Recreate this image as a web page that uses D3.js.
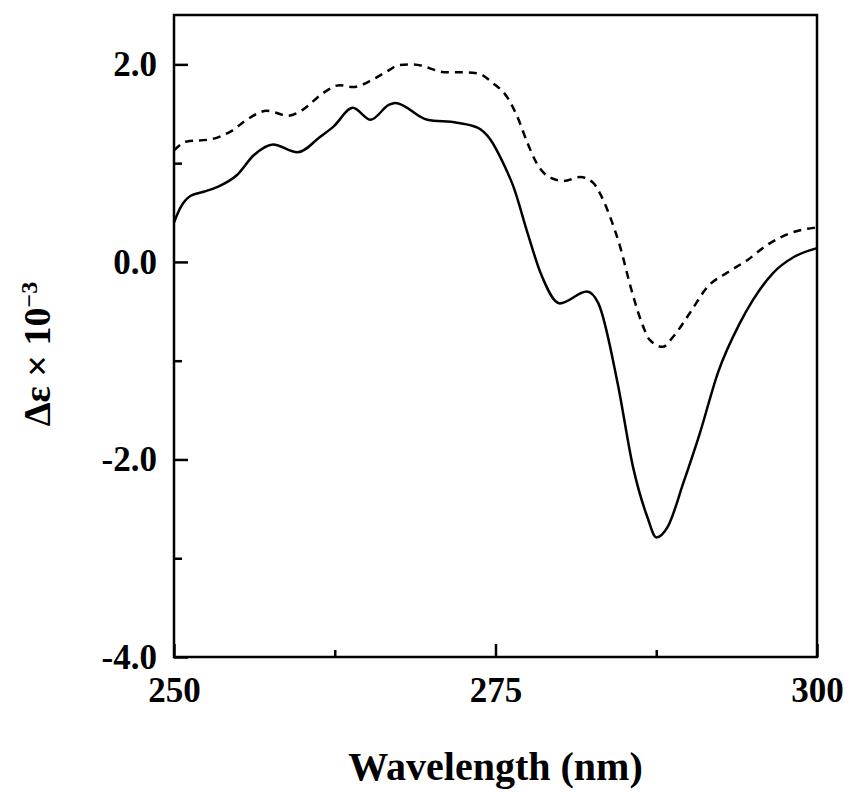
<!DOCTYPE html>
<html>
<head>
<meta charset="utf-8">
<script src="https://cdn.jsdelivr.net/npm/d3@7"></script>
<style>
  body { margin: 0; background: #fff; }
  text { font-family: "Liberation Serif", "Times New Roman", serif; font-weight: bold; fill: #000; }
</style>
</head>
<body>
<div id="app"></div>
<script>
// data
const solidWl = [250, 250.5, 251.3, 252.3, 253.4, 254.9, 256.2, 257.7, 259.6, 261.4, 262.4, 263.9, 265.3, 266.7, 267.2, 269.7, 272.0, 273.6, 274.6, 275.6, 276.4, 277.5, 278.5, 280.0, 282.1, 283.0, 284.5, 285.7, 286.8, 287.5, 288.4, 289.6, 290.9, 292.3, 294.0, 295.0, 296.6, 298.2, 300]
const solidDe = [0.40, 0.55, 0.67, 0.71, 0.76, 0.88, 1.08, 1.19, 1.11, 1.27, 1.37, 1.56, 1.44, 1.59, 1.61, 1.44, 1.41, 1.36, 1.24, 1.00, 0.76, 0.29, -0.11, -0.42, -0.30, -0.42, -1.23, -2.08, -2.58, -2.79, -2.68, -2.24, -1.73, -1.12, -0.62, -0.39, -0.11, 0.05, 0.14]

const dashedWl = [250, 251.0, 252.8, 254.4, 255.9, 257.2, 258.9, 260.0, 261.6, 262.9, 263.9, 265.5, 266.7, 267.4, 268.6, 271.2, 272.5, 273.6, 274.8, 275.9, 276.7, 277.5, 278.2, 279.3, 280.3, 281.6, 282.6, 283.1, 283.9, 284.7, 285.5, 286.3, 287.0, 288.0, 288.8, 290.1, 291.5, 293.0, 294.6, 296.1, 297.9, 300]
const dashedDe = [1.13, 1.22, 1.24, 1.32, 1.46, 1.53, 1.48, 1.54, 1.71, 1.79, 1.77, 1.85, 1.94, 1.99, 2.00, 1.92, 1.92, 1.91, 1.81, 1.67, 1.47, 1.20, 1.00, 0.85, 0.82, 0.86, 0.80, 0.70, 0.46, 0.15, -0.25, -0.59, -0.79, -0.86, -0.76, -0.52, -0.25, -0.11, 0.02, 0.17, 0.29, 0.35]

const xTicks = [250, 275, 300]
const xMinor = [262.5, 287.5]
const yTicks = [-4, -2, 0, 2]
const yMinor = [-3, -1, 1]

const W = 849, H = 792
const margin = { left: 174, top: 15, right: 32, bottom: 135 }
const bounds = {
  width: W - margin.left - margin.right,
  height: H - margin.top - margin.bottom
}

const svg = d3.select('#app')
  .append('svg')
    .attr('width', W)
    .attr('height', H)
  .append('g')
    .attr('transform', `translate(${margin.left}, ${margin.top})`)

const xScale = d3.scaleLinear().domain([250, 300]).range([0, bounds.width])
const yScale = d3.scaleLinear().domain([-4, 2.5]).range([bounds.height, 0])

// frame
svg.append('rect')
  .attr('width', bounds.width)
  .attr('height', bounds.height)
  .attr('fill', 'none')
  .attr('stroke', '#000')
  .attr('stroke-width', 2.5)

// x axis (ticks inward)
const xAxis = svg.append('g')
  .attr('transform', `translate(0, ${bounds.height})`)
  .call(d3.axisBottom(xScale).tickValues(xTicks).tickSize(-13).tickPadding(20).tickFormat(d3.format('d')))
svg.append('g')
  .attr('transform', `translate(0, ${bounds.height})`)
  .call(d3.axisBottom(xScale).tickValues(xMinor).tickSize(-7).tickFormat(''))

const yAxis = svg.append('g')
  .call(d3.axisLeft(yScale).tickValues(yTicks).tickSize(-14).tickPadding(17).tickFormat(d3.format('.1f')))
svg.append('g')
  .call(d3.axisLeft(yScale).tickValues(yMinor).tickSize(-8).tickFormat(''))

svg.selectAll('.domain').remove()
svg.selectAll('.tick line').attr('stroke', '#000').attr('stroke-width', 2.5)
svg.selectAll('.tick text')
  .style('font-family', '"Liberation Serif", serif')
  .style('font-weight', 'bold')
  .style('font-size', '35px')
  .attr('fill', '#000')
yAxis.selectAll('.tick text').text(d => d3.format('.1f')(d).replace('−', '-'))

// curves
const line = d3.line()
  .x(d => xScale(d[0]))
  .y(d => yScale(d[1]))
  .curve(d3.curveMonotoneX)

svg.append('path')
  .datum(d3.zip(dashedWl, dashedDe))
  .attr('d', line)
  .attr('fill', 'none')
  .attr('stroke', '#000')
  .attr('stroke-width', 2.5)
  .attr('stroke-dasharray', '8,6')

svg.append('path')
  .datum(d3.zip(solidWl, solidDe))
  .attr('d', line)
  .attr('fill', 'none')
  .attr('stroke', '#000')
  .attr('stroke-width', 2.5)

// axis titles
svg.append('text')
  .attr('x', bounds.width / 2)
  .attr('y', 780 - margin.top)
  .attr('text-anchor', 'middle')
  .style('font-size', '40px')
  .text('Wavelength (nm)')

const yTitle = svg.append('text')
  .attr('transform', `translate(${50 - margin.left}, ${354 - margin.top}) rotate(-90)`)
  .attr('text-anchor', 'middle')
  .style('font-size', '38px')
yTitle.append('tspan').text('Δε × 10')
yTitle.append('tspan')
  .attr('dy', '-0.55em')
  .style('font-size', '24px')
  .text('−3')
</script>
</body>
</html>
